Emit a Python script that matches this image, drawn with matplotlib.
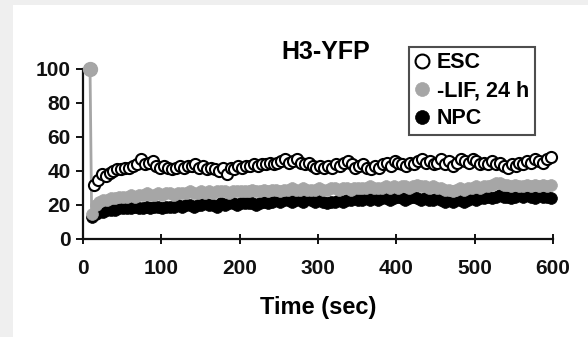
import numpy as np
import matplotlib
matplotlib.use("Agg")
import matplotlib.pyplot as plt
from matplotlib.patches import Rectangle

plt.rcParams['font.family'] = ['Liberation Sans', 'DejaVu Sans']
plt.rcParams['font.weight'] = 'bold'

# Recovery (% of pre-bleach intensity); one pre-bleach point, then post-bleach frames
prebleach_time = 9
prebleach_value = 100
first_post_time = 11
last_post_time = 597

esc = [32, 35, 38, 37, 39, 40, 41, 41, 42, 42,
       43, 44, 47, 44, 45, 46, 43, 42, 43, 42,
       41, 42, 43, 42, 43, 43, 44, 42, 43, 41,
       42, 41, 40, 42, 38, 42, 41, 43, 42, 43,
       43, 44, 43, 44, 44, 45, 44, 45, 46, 47,
       45, 46, 47, 45, 44, 45, 43, 42, 43, 42,
       43, 42, 44, 43, 45, 46, 44, 42, 43, 44,
       42, 41, 43, 42, 44, 45, 43, 46, 45, 44,
       43, 45, 44, 46, 47, 45, 46, 44, 45, 47,
       44, 46, 43, 45, 47, 46, 45, 47, 46, 44,
       45, 44, 46, 44, 45, 43, 42, 44, 43, 45,
       44, 46, 45, 47, 46, 45, 47, 48]

lif24 = [15, 20, 22, 23, 23, 24, 24, 25, 25, 25,
         26, 25, 26, 26, 27, 26, 26, 27, 26, 27,
         27, 26, 27, 27, 27, 28, 27, 27, 28, 27,
         28, 27, 28, 28, 28, 27, 28, 28, 28, 28,
         28, 29, 28, 28, 29, 28, 29, 29, 28, 29,
         29, 30, 29, 29, 30, 29, 29, 29, 30, 29,
         29, 30, 30, 29, 30, 30, 29, 30, 30, 30,
         30, 31, 30, 30, 30, 31, 30, 31, 30, 31,
         31, 30, 31, 32, 31, 31, 30, 31, 30, 30,
         29, 29, 28, 29, 30, 29, 30, 30, 31, 30,
         31, 31, 32, 33, 33, 32, 32, 31, 32, 31,
         31, 32, 31, 32, 31, 32, 31, 32]

npc = [13, 15, 16, 16, 17, 17, 17, 18, 18, 18,
       18, 19, 18, 18, 19, 18, 19, 19, 18, 19,
       19, 19, 20, 19, 20, 20, 19, 20, 20, 21,
       20, 20, 19, 21, 20, 21, 21, 20, 21, 21,
       21, 21, 20, 21, 22, 21, 22, 23, 22, 23,
       23, 22, 23, 23, 22, 24, 23, 22, 23, 22,
       21, 22, 22, 23, 22, 23, 23, 24, 23, 23,
       24, 23, 24, 23, 24, 24, 23, 24, 25, 24,
       23, 24, 25, 24, 23, 24, 23, 23, 24, 23,
       22, 23, 22, 23, 23, 22, 23, 24, 23, 24,
       24, 25, 24, 25, 26, 25, 25, 24, 25, 26,
       25, 26, 25, 24, 26, 25, 25, 24]

x_ticks = [0, 100, 200, 300, 400, 500, 600]
y_ticks = [0, 20, 40, 60, 80, 100]


def series(values, start=first_post_time):
    t = np.linspace(start, last_post_time, len(values))
    return (np.concatenate([[prebleach_time], t]),
            np.concatenate([[prebleach_value], values]))


fig = plt.figure(figsize=(5.88, 3.37), dpi=100, facecolor='#efefef')
# white panel inside the light grey page margin
fig.patches.append(Rectangle((13 / 588, 0), 1, 1 - 5 / 337,
                             transform=fig.transFigure, facecolor='white',
                             edgecolor='none', zorder=-10))

ax = fig.add_axes([83 / 588, 1 - 239 / 337, 470 / 588, 170 / 337])
ax.set_facecolor('none')

t_n, v_n = series(npc)
t_l, v_l = series(lif24)
t_e, v_e = series(esc, start=14)

h_npc, = ax.plot(t_n, v_n, linestyle='none', marker='o', markersize=8.5,
                 markerfacecolor='black', markeredgecolor='black',
                 markeredgewidth=0.5, label='NPC', clip_on=False, zorder=3)
h_lif, = ax.plot(t_l, v_l, linestyle='-', color='#a6a6a6', linewidth=2,
                 marker='o', markersize=8.5, markerfacecolor='#a6a6a6',
                 markeredgecolor='#a6a6a6', markeredgewidth=0.5,
                 label='-LIF, 24 h', clip_on=False, zorder=4)
h_esc, = ax.plot(t_e, v_e, linestyle='none', marker='o', markersize=8,
                 markerfacecolor='white', markeredgecolor='black',
                 markeredgewidth=1.5, label='ESC', clip_on=False, zorder=5)
# pre-bleach point drawn on top in grey
ax.plot([prebleach_time], [prebleach_value], linestyle='none', marker='o',
        markersize=10, color='#a6a6a6', clip_on=False, zorder=6)

ax.set_xlim(0, 600)
ax.set_ylim(0, 100)
ax.set_xticks(x_ticks)
ax.set_yticks(y_ticks)
for s in ('top', 'right'):
    ax.spines[s].set_visible(False)
for s in ('left', 'bottom'):
    ax.spines[s].set_linewidth(1.6)
    ax.spines[s].set_color('#111111')
ax.tick_params(axis='x', direction='inout', length=7, width=1.4,
               labelsize=15, pad=11, colors='#111111')
ax.tick_params(axis='y', direction='out', length=5, width=1.4,
               labelsize=15, pad=4, colors='#111111')

ax.set_xlabel('Time (sec)', fontsize=17, fontweight='bold', labelpad=13)
fig.text(326 / 588, 1 - 52 / 337, 'H3-YFP', ha='center', va='center',
         fontsize=18, fontweight='bold')

leg = ax.legend(handles=[h_esc, h_lif, h_npc], loc='upper left',
                bbox_to_anchor=((409 - 83) / 470, (239 - 47) / 170),
                borderaxespad=0, frameon=True, fancybox=False,
                edgecolor='#222222', handlelength=0.7,
                handletextpad=0.35, borderpad=0.25, labelspacing=0.32,
                prop={'weight': 'bold', 'size': 15.5})
leg.get_frame().set_linewidth(1.5)
for line in leg.get_lines():
    line.set_linestyle('none')
    line.set_markersize(10)

fig.savefig('out.png', dpi=100, facecolor=fig.get_facecolor())
